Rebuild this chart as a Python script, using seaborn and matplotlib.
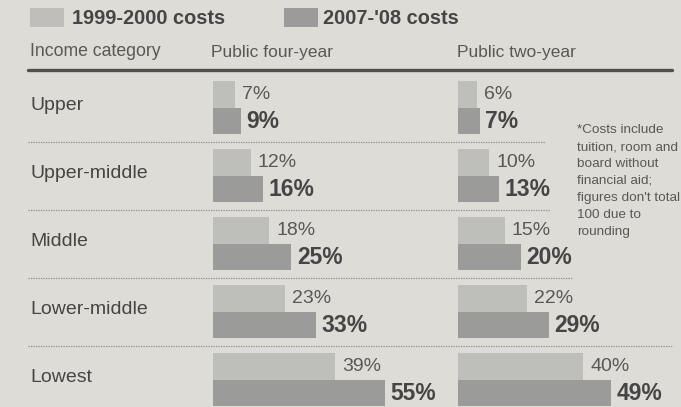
import matplotlib
matplotlib.use("Agg")
import matplotlib.pyplot as plt
import seaborn as sns
import pandas as pd
from matplotlib.lines import Line2D
from matplotlib.patches import Rectangle
from matplotlib.transforms import blended_transform_factory as blend

# ---- data -------------------------------------------------------------
categories = ["Upper", "Upper-middle", "Middle", "Lower-middle", "Lowest"]
periods = ["1999-2000 costs", "2007-'08 costs"]
four_year_1999 = [7, 12, 18, 23, 39]
four_year_2007 = [9, 16, 25, 33, 55]
two_year_1999 = [6, 10, 15, 22, 40]
two_year_2007 = [7, 13, 20, 29, 49]
header_label = "Income category"
panel_titles = ["Public four-year", "Public two-year"]
note_lines = ["*Costs include", "tuition, room and", "board without",
              "financial aid;", "figures don't total", "100 due to", "rounding"]

# ---- style ------------------------------------------------------------
BG = "#dddcd7"
LIGHT = "#bebebb"
DARK = "#9b9b99"
INK = "#454545"
SOFT = "#585858"
SANS = ["Liberation Sans", "DejaVu Sans"]

sns.set_theme(style="white")
plt.rcParams["font.family"] = SANS

W, H = 681, 407
fig = plt.figure(figsize=(W / 100, H / 100), dpi=100)
fig.patch.set_facecolor(BG)


def fx(px):
    return px / W


def fy(py):
    return 1 - py / H


def tidy(first, second):
    return pd.DataFrame({
        "category": categories * 2,
        "period": [periods[0]] * len(categories) + [periods[1]] * len(categories),
        "value": list(first) + list(second),
    })


panels = [tidy(four_year_1999, four_year_2007), tidy(two_year_1999, two_year_2007)]
lefts = [213, 458]
axes = []
for left, df in zip(lefts, panels):
    ax = fig.add_axes([fx(left), fy(407), 220 / W, (407 - 74) / H])
    sns.barplot(data=df, y="category", x="value", hue="period", orient="h",
                palette=[LIGHT, DARK], hue_order=periods, order=categories,
                width=0.78, saturation=1, linewidth=0, legend=False, ax=ax)
    ax.set_xlim(0, 220 / 3.13)
    ax.set_ylim(4.4, -0.5)
    ax.set_axis_off()
    ax.patch.set_alpha(0)
    light, dark = ax.containers[0], ax.containers[1]
    ax.bar_label(light, labels=[f"{v:g}%" for v in light.datavalues],
                 padding=5, fontsize=14, color=SOFT)
    ax.bar_label(dark, labels=[f"{v:g}%" for v in dark.datavalues],
                 padding=4, fontsize=16.5, fontweight="bold", color=INK)
    axes.append(ax)

ax4 = axes[0]
row = blend(fig.transFigure, ax4.transData)

# category names and dotted separators between rows
for i, name in enumerate(categories):
    fig.text(fx(30), i - 0.04, name, transform=row, fontsize=14, color=INK,
             va="center", ha="left")
for i, xend in enumerate([545, 550, 572, 672]):
    fig.add_artist(Line2D([fx(28), fx(xend)], [i + 0.5, i + 0.5], transform=row,
                          color="#8c8c8a", lw=0.9, linestyle=(0, (1, 1))))

# column headers and the rule beneath them
fig.text(fx(30), fy(52), header_label, fontsize=12.7, color=SOFT, va="center")
for left, title in zip([211, 457], panel_titles):
    fig.text(fx(left), fy(52), title, fontsize=12.5, color=SOFT, va="center")
fig.add_artist(Line2D([fx(28), fx(672)], [fy(70), fy(70)], color="#505050", lw=2.4))

# legend
for x0, color, label, tx in [(30, LIGHT, periods[0], 72), (284, DARK, periods[1], 323)]:
    fig.add_artist(Rectangle((fx(x0), fy(27)), 34 / W, 19 / H, facecolor=color,
                             edgecolor="none", transform=fig.transFigure))
    fig.text(fx(tx), fy(18), label, fontsize=14.4, fontweight="bold", color=INK,
             va="center", ha="left")

# footnote
for k, line in enumerate(note_lines):
    fig.text(fx(577), fy(130 + 17 * k), line, fontsize=9.7, color=SOFT,
             va="center", ha="left")

fig.savefig("out.png", dpi=100, facecolor=BG)
